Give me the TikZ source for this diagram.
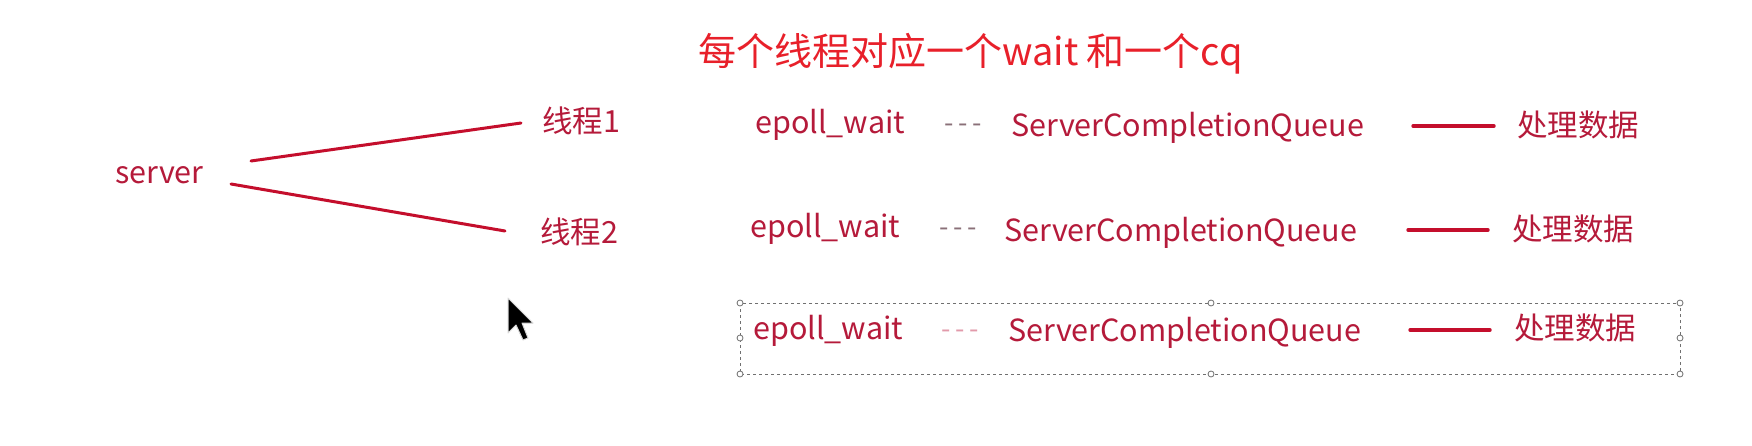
\documentclass[tikz,border=0pt]{standalone}
\usepackage{fontspec}
\setmainfont{Noto Sans CJK SC}
\definecolor{titlered}{HTML}{E8202A}
\definecolor{txtred}{HTML}{B51A3A}
\definecolor{linered}{HTML}{C40E2C}
\definecolor{dashgray}{HTML}{8A7078}
\definecolor{dashpink}{HTML}{E29AAA}
\definecolor{boxgray}{HTML}{707070}
\newcommand{\tridash}{-\hspace{5pt}-\hspace{5pt}-}
\tikzset{
  txt/.style={text=txtred, inner sep=0pt, anchor=west, font=\fontsize{30.5}{36}\selectfont},
  dsh/.style={text=dashgray, inner sep=0pt, anchor=west, font=\fontsize{27}{30}\selectfont},
  redline/.style={draw=linered, line width=3.4pt, line cap=round},
  handle/.style={circle, draw=boxgray, fill=white, line width=0.8pt, inner sep=0pt, minimum size=6pt},
}
\begin{document}
\begin{tikzpicture}[x=1pt,y=-1pt]
\useasboundingbox[fill=white] (0,0) rectangle (1752,446);
% title
\node[text=titlered, inner sep=0pt, anchor=west, font=\fontsize{38}{42}\selectfont] (title) at (698,54) {每个线程对应一个wait 和一个cq};
% server and threads
\node[txt] (server) at (115,175) {server};
\node[txt] (t1) at (542,121) {线程1};
\node[txt] (t2) at (540,232) {线程2};
\coordinate (s1) at (251,161);
\coordinate (e1) at (521,123);
\coordinate (s2) at (231,184);
\coordinate (e2) at (505,231);
\draw[redline, line width=3pt] (s1) -- (e1);
\draw[redline, line width=3pt] (s2) -- (e2);
% row 1
\node[txt] (ew1) at (755,125) {epoll\_wait};
\node[dsh] (d1) at (944,128) {\tridash};
\node[txt] (q1) at (1011,128) {ServerCompletionQueue};
\coordinate (l1a) at (1413,126);
\coordinate (l1b) at (1494,126);
\draw[redline] (l1a) -- (l1b);
\node[txt] (p1) at (1517,125) {处理数据};
% row 2
\node[txt] (ew2) at (750,229) {epoll\_wait};
\node[dsh] (d2) at (939,232) {\tridash};
\node[txt] (q2) at (1004,233) {ServerCompletionQueue};
\coordinate (l2a) at (1408,230);
\coordinate (l2b) at (1488,230);
\draw[redline] (l2a) -- (l2b);
\node[txt] (p2) at (1512,229) {处理数据};
% row 3 (selected)
\node[txt] (ew3) at (753,331) {epoll\_wait};
\node[dsh, text=dashpink] (d3) at (941,334) {\tridash};
\node[txt] (q3) at (1008,333) {ServerCompletionQueue};
\coordinate (l3a) at (1410,330);
\coordinate (l3b) at (1490,330);
\draw[redline] (l3a) -- (l3b);
\node[txt] (p3) at (1514,328) {处理数据};
% selection box
\draw[boxgray, line width=1pt, dash pattern=on 3pt off 3pt] (740,303) rectangle (1680,374);
\foreach \hx/\hy [count=\i] in {740/303,1211/303,1680/303,740/338,1680/338,740/374,1211/374,1680/374}
  \node[handle] (h\i) at (\hx,\hy) {};
% mouse cursor
\fill[black, draw=white!70!gray, line width=1pt, line join=round]
  (508,298) -- (508,333) -- (516,325) -- (523,340) -- (528,338) -- (522,323) -- (533,323) -- cycle;
\end{tikzpicture}
\end{document}
